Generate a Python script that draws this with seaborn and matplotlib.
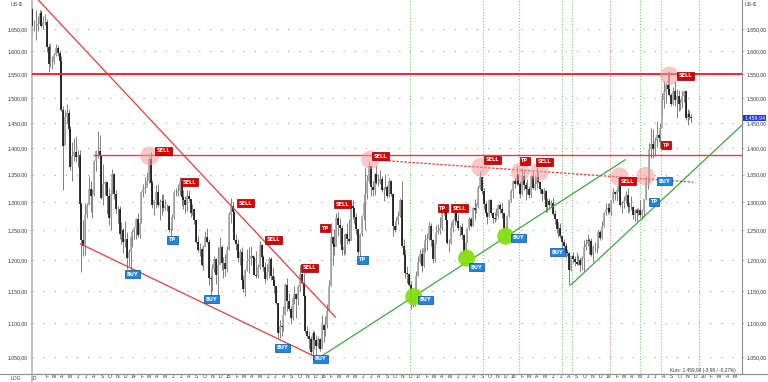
import numpy as np
import pandas as pd
import matplotlib
matplotlib.use("Agg")
import matplotlib.pyplot as plt
import matplotlib.dates as mdates
import matplotlib.transforms as mtrans
from matplotlib.ticker import FixedLocator, FuncFormatter, NullLocator, NullFormatter
from matplotlib.lines import Line2D
import seaborn as sns

# ---------------- data (weekly gold price, US-$) ----------------
first_week = "2012-12-21"
first_open = 1696

close_2012 = [1657, 1656]
high_2012 = [1700, 1670]
low_2012 = [1636, 1645]

close_2013 = [1656,1662,1687,1658,1667,1667,1609,1573,1576,1577,1592,1608,1596,1580,1476,1405,1462,1469,1437,1364,1386,1393,1383,1387,1296,1234,1223,1277,1295,1323,1310,1313,1376,1395,1395,1387,1308,1333,1337,1310,1272,1315,1352,1314,1287,1288,1244,1250,1230,1235,1203,1213]
high_2013 = [1693,1680,1694,1695,1680,1684,1674,1616,1619,1590,1597,1616,1614,1604,1590,1484,1476,1488,1477,1444,1413,1419,1424,1397,1397,1300,1268,1298,1298,1348,1338,1323,1378,1397,1434,1425,1387,1370,1339,1337,1325,1322,1361,1353,1322,1292,1292,1264,1255,1267,1247,1219]
low_2013 = [1626,1646,1660,1655,1651,1660,1598,1555,1565,1562,1572,1590,1591,1540,1474,1321,1408,1449,1430,1359,1338,1375,1373,1365,1269,1180,1206,1208,1271,1294,1282,1271,1310,1357,1382,1383,1306,1294,1313,1279,1260,1251,1314,1305,1281,1262,1236,1226,1211,1222,1186,1190]

close_2014 = [1238,1248,1254,1270,1242,1263,1318,1323,1326,1338,1379,1334,1294,1303,1318,1294,1300,1302,1290,1293,1292,1250,1252,1274,1316,1316,1320,1337,1309,1303,1294,1310,1305,1280,1287,1268,1231,1216,1218,1192,1222,1238,1231,1171,1169,1185,1201,1175,1191,1222,1195,1195]
high_2014 = [1240,1251,1256,1272,1280,1272,1320,1332,1345,1355,1384,1392,1340,1304,1331,1332,1305,1315,1315,1306,1297,1295,1257,1279,1322,1326,1332,1345,1338,1322,1311,1322,1321,1306,1296,1287,1270,1240,1229,1222,1225,1249,1255,1236,1175,1194,1207,1203,1221,1238,1225,1205]
low_2014 = [1182,1221,1235,1236,1238,1237,1263,1309,1316,1331,1335,1322,1290,1277,1290,1291,1268,1277,1284,1286,1284,1247,1240,1250,1270,1310,1310,1313,1292,1288,1281,1284,1301,1273,1276,1261,1229,1214,1207,1190,1183,1221,1228,1160,1131,1150,1181,1161,1142,1193,1183,1171]

close_2015 = [1186,1216,1277,1293,1283,1234,1227,1204,1213,1167,1153,1183,1199,1201,1207,1203,1175,1174,1189,1225,1205,1189,1169,1180,1201,1173,1168,1157,1131,1085,1095,1094,1113,1159,1134,1121,1108,1138,1145,1137,1156,1177,1163,1142,1088,1081,1076,1057,1085,1075,1066,1076]
high_2015 = [1210,1223,1282,1307,1300,1284,1244,1236,1219,1222,1176,1186,1219,1222,1224,1209,1206,1215,1194,1232,1227,1209,1196,1194,1205,1205,1188,1174,1158,1131,1105,1099,1126,1162,1170,1147,1126,1142,1157,1147,1160,1191,1178,1179,1143,1095,1088,1081,1089,1088,1082,1080]
low_2015 = [1173,1181,1216,1262,1252,1232,1216,1196,1191,1164,1148,1142,1182,1178,1192,1183,1175,1170,1170,1186,1200,1182,1162,1168,1170,1168,1160,1147,1130,1077,1077,1081,1088,1112,1118,1118,1098,1104,1129,1108,1128,1149,1161,1137,1085,1077,1062,1052,1046,1062,1046,1064]

close_2016 = [1061,1097,1089,1097,1118,1158,1239,1227,1222,1271,1259,1255,1217,1222,1243,1235,1232,1292,1289,1273,1252,1213,1243,1275,1298,1315,1339,1366,1327,1322,1351,1335,1335,1341,1321,1326,1328,1310,1339,1315,1257,1251,1266,1275,1304,1224,1208,1178,1177,1159,1134,1133,1151]
high_2016 = [1078,1112,1098,1111,1129,1167,1263,1240,1253,1280,1282,1272,1259,1244,1246,1262,1270,1297,1304,1290,1280,1253,1245,1277,1315,1362,1350,1375,1359,1338,1353,1368,1352,1359,1347,1328,1352,1330,1343,1340,1317,1266,1274,1284,1308,1338,1236,1217,1190,1178,1166,1140,1162]
low_2016 = [1058,1061,1071,1080,1093,1118,1157,1191,1209,1225,1240,1226,1209,1208,1210,1226,1228,1234,1269,1261,1244,1208,1200,1241,1268,1251,1306,1335,1310,1311,1313,1333,1329,1333,1318,1302,1323,1307,1309,1310,1241,1248,1250,1261,1274,1222,1205,1171,1162,1158,1122,1124,1126]

close_2017 = [1173,1196,1210,1190,1220,1234,1236,1257,1234,1202,1229,1248,1249,1254,1287,1284,1268,1228,1228,1254,1268,1280,1266,1254,1256,1242,1212,1228,1254,1269,1258,1290,1285,1292,1325,1346,1320,1297,1280,1274,1304,1280,1272,1269,1275,1294,1288,1280,1248,1256,1275,1303]
high_2017 = [1182,1207,1219,1220,1226,1244,1245,1264,1263,1235,1233,1260,1261,1273,1289,1296,1290,1265,1236,1264,1270,1283,1296,1278,1259,1262,1243,1233,1255,1274,1274,1291,1306,1298,1330,1357,1338,1326,1301,1282,1306,1306,1283,1283,1290,1297,1298,1300,1279,1262,1276,1305]
low_2017 = [1146,1174,1195,1180,1188,1213,1216,1233,1224,1195,1197,1229,1243,1243,1250,1276,1261,1227,1214,1226,1248,1259,1264,1250,1241,1236,1205,1206,1231,1250,1256,1257,1268,1281,1290,1323,1315,1288,1276,1261,1274,1276,1263,1264,1268,1272,1281,1271,1243,1236,1252,1274]

close_2018 = [1320,1338,1332,1349,1333,1315,1347,1330,1323,1324,1313,1347,1325,1332,1345,1336,1323,1314,1320,1291,1302,1294,1298,1278,1270,1252,1255,1241,1231,1223,1214,1212,1184,1206,1201,1196,1193,1200,1192,1203,1222,1227,1233,1232,1209,1222,1222,1222,1248,1237,1257,1281]
high_2018 = [1323,1340,1344,1366,1352,1339,1362,1356,1337,1341,1329,1350,1356,1347,1365,1354,1338,1323,1326,1322,1307,1307,1303,1309,1285,1270,1265,1262,1240,1236,1228,1219,1213,1207,1214,1207,1213,1209,1205,1207,1233,1236,1243,1237,1237,1225,1230,1229,1250,1251,1266,1283]
low_2018 = [1300,1307,1326,1330,1330,1307,1312,1322,1303,1315,1307,1309,1323,1321,1325,1334,1316,1302,1305,1282,1282,1288,1291,1276,1261,1246,1238,1237,1211,1222,1204,1206,1160,1182,1195,1190,1191,1191,1180,1183,1182,1217,1223,1210,1207,1196,1213,1211,1220,1234,1236,1256]

close_2019 = [1285,1289,1282,1303,1318,1314,1322,1329,1294,1299,1302,1313,1292,1291,1291,1276,1286,1280,1286,1277,1284,1305,1341,1341,1399,1409,1399,1415,1426,1419,1440,1497,1513,1527,1520,1507,1488,1516,1497,1505,1489,1490,1505,1514,1459,1468,1462,1460]
high_2019 = [1299,1298,1298,1304,1326,1319,1326,1346,1330,1301,1311,1320,1325,1300,1310,1292,1288,1289,1290,1303,1287,1306,1347,1358,1411,1439,1438,1421,1453,1433,1449,1510,1535,1531,1555,1557,1511,1523,1535,1519,1517,1498,1515,1517,1515,1478,1475,1468]
low_2019 = [1276,1279,1280,1276,1298,1303,1302,1320,1291,1281,1289,1298,1281,1283,1285,1270,1266,1267,1277,1273,1269,1274,1304,1323,1337,1382,1381,1386,1402,1412,1400,1464,1480,1491,1515,1504,1485,1487,1485,1459,1474,1476,1480,1492,1456,1446,1456,1450]

last_price = 1459.94
kurs_text = "Kurs: 1.459,94 (-3,98 / -0,27%)"

y_ticks = [1050, 1100, 1150, 1200, 1250, 1300, 1350, 1400, 1450, 1500, 1550, 1600, 1650]

# horizontal levels
level_full = 1550
level_part = 1387
level_part_start = "2013-08-13"

# trend lines: (start date, start price, end date, end price)
red_lines = [("2013-01-14", 1717, "2016-03-01", 1109),
             ("2013-06-24", 1227, "2015-12-26", 1048)]
green_lines = [("2015-12-26", 1048, "2019-03-20", 1378),
               ("2018-08-22", 1159, "2020-06-12", 1446)]
dashed_line = ("2016-07-21", 1378, "2019-12-07", 1336)

# event markers (vertical dotted lines)
vline_dates = ["2016-12-14", "2017-09-21", "2018-02-06", "2018-07-18", "2018-08-29",
               "2019-01-22", "2019-05-14", "2019-08-06", "2019-12-30"]
vline_kind = ["g", "r", "r", "g", "g", "r", "g", "r", "g"]

# highlighted points
pink_dates = ["2014-03-17", "2016-07-14", "2017-09-10", "2018-02-10", "2018-04-24",
              "2019-02-26", "2019-06-06", "2019-09-06"]
pink_prices = [1385, 1378, 1364, 1355, 1355, 1346, 1347, 1547]
green_dates = ["2016-12-27", "2017-07-18", "2017-12-15"]
green_prices = [1141, 1203, 1240]

# signals
sig_text = ["SELL", "SELL", "SELL", "SELL", "SELL", "SELL", "SELL", "SELL", "SELL", "SELL", "SELL", "SELL",
            "TP", "TP", "TP", "TP",
            "TP", "TP", "TP",
            "BUY", "BUY", "BUY", "BUY", "BUY", "BUY", "BUY", "BUY", "BUY"]
sig_side = ["s"] * 12 + ["s"] * 4 + ["b"] * 3 + ["b"] * 9
sig_date = ["2014-05-10", "2014-08-18", "2015-03-21", "2015-07-06", "2015-11-22", "2016-03-28",
            "2016-08-21", "2017-06-21", "2017-10-26", "2018-05-13", "2019-03-28", "2019-11-06",
            "2016-01-22", "2017-04-17", "2018-02-26", "2019-08-25",
            "2014-06-13", "2016-06-13", "2019-07-10",
            "2014-01-11", "2014-11-10", "2015-08-10", "2016-01-03", "2017-02-10", "2017-08-25",
            "2018-02-03", "2018-07-03", "2019-08-18"]
sig_price = [1395, 1336, 1298, 1234, 1187, 1296, 1385, 1289, 1378, 1374, 1338, 1547,
             1254, 1289, 1376, 1406,
             1234, 1200, 1300,
             1177, 1137, 1063, 1047, 1136, 1188, 1237, 1213, 1338]

# ---------------- build ----------------
sns.set_style("white")
plt.rcParams["font.family"] = ["Liberation Sans", "DejaVu Sans"]

close = np.array(close_2012 + close_2013 + close_2014 + close_2015 + close_2016 + close_2017 + close_2018 + close_2019, float)
high = np.array(high_2012 + high_2013 + high_2014 + high_2015 + high_2016 + high_2017 + high_2018 + high_2019, float)
low = np.array(low_2012 + low_2013 + low_2014 + low_2015 + low_2016 + low_2017 + low_2018 + low_2019, float)
opens = np.concatenate([[first_open], close[:-1]])
dates = pd.date_range(first_week, periods=len(close), freq="W-FRI")
xnum = mdates.date2num(dates)

W, H = 768, 382
fig = plt.figure(figsize=(W / 100, H / 100), dpi=100)
L, R, T, B = 32, 742, 0, 374
ax = fig.add_axes([L / W, (H - B) / H, (R - L) / W, (B - T) / H])
ax.set_facecolor("white")
ax.set_yscale("log")
ax.set_xlim(pd.Timestamp("2012-12-20"), pd.Timestamp("2020-06-11"))
ax.set_ylim(1025.4, 1717.6)

def de_fmt(v, pos=None):
    s = f"{v:,.2f}"
    return s.replace(",", "X").replace(".", ",").replace("X", ".")

# grid
for v in y_ticks:
    ax.axhline(v, color="#a8a8a8", lw=0.8, ls=(0, (1, 9)), zorder=0)

# candles
ax.vlines(xnum, low, high, color="#5e5e5e", lw=0.55, zorder=2)
up = close >= opens
ax.vlines(xnum[up], opens[up], close[up], color="#a4a4a4", lw=1.15, zorder=3)
ax.vlines(xnum[~up], close[~up], opens[~up], color="#111111", lw=1.2, zorder=3)

# vertical event lines
for d, k in zip(vline_dates, vline_kind):
    ax.axvline(pd.Timestamp(d), color="#f28a8a" if k == "r" else "#7dc47d",
               lw=0.8, ls=(0, (1, 1.6)), zorder=1)

# horizontal levels
ax.axhline(level_full, color="#f02828", lw=1.4, zorder=4)
ax.hlines(level_part, pd.Timestamp(level_part_start), pd.Timestamp("2020-06-11"),
          color="#f03a3a", lw=1.0, zorder=4)

# trend lines with seaborn
for d1, p1, d2, p2 in red_lines:
    sns.lineplot(x=[pd.Timestamp(d1), pd.Timestamp(d2)], y=[p1, p2], ax=ax,
                 color="#f03a3a", lw=0.9, estimator=None, sort=False, zorder=4)
for d1, p1, d2, p2 in green_lines:
    sns.lineplot(x=[pd.Timestamp(d1), pd.Timestamp(d2)], y=[p1, p2], ax=ax,
                 color="#3aaa3a", lw=0.9, estimator=None, sort=False, zorder=4)
d1, p1, d2, p2 = dashed_line
ax.plot([pd.Timestamp(d1), pd.Timestamp(d2)], [p1, p2], color="#f03a3a", lw=0.9,
        ls=(0, (2, 1.2)), zorder=4)

# circles
sns.scatterplot(x=pd.to_datetime(pink_dates), y=pink_prices, ax=ax, s=180,
                color="#f49a9a", alpha=0.55, edgecolor="none", legend=False, zorder=5)
sns.scatterplot(x=pd.to_datetime(green_dates), y=green_prices, ax=ax, s=150,
                color="#86e010", alpha=0.95, edgecolor="none", legend=False, zorder=5)

# signal labels
for t, side, d, p in zip(sig_text, sig_side, sig_date, sig_price):
    fc = "#e00000" if side == "s" else "#1e84e6"
    ec = "#900000" if side == "s" else "#0c4f99"
    ax.text(pd.Timestamp(d), p, t, ha="center", va="center", fontsize=3.6,
            fontweight="bold", color="white", zorder=7, family=["DejaVu Sans"],
            bbox=dict(boxstyle="square,pad=0.3", fc=fc, ec=ec, lw=0.5))

# axes styling
ax.set_xlabel("")
ax.set_ylabel("")
ax.xaxis.label.set_visible(False)
ax.yaxis.label.set_visible(False)
ax.yaxis.set_major_locator(FixedLocator(y_ticks))
ax.yaxis.set_minor_locator(NullLocator())
ax.yaxis.set_major_formatter(FuncFormatter(de_fmt))
ax.yaxis.set_minor_formatter(NullFormatter())
ax.tick_params(axis="y", which="major", left=True, right=True, labelleft=True,
               labelright=True, length=1.5, width=0.5, color="#999999",
               labelsize=3.7, labelcolor="#333333", pad=1.6)

month_letters = "JFMAMJJASOND"
def month_lbl(v, pos=None):
    d = mdates.num2date(v)
    if d.month == 1:
        return "" if d.year == 2013 else f"{d.year % 100:02d}"
    return month_letters[d.month - 1]

ax.xaxis.set_major_locator(mdates.MonthLocator())
ax.xaxis.set_major_formatter(NullFormatter())
ax.xaxis.set_minor_locator(mdates.MonthLocator(bymonthday=15))
ax.xaxis.set_minor_formatter(FuncFormatter(month_lbl))
ax.tick_params(axis="x", which="major", length=6, width=0.5, color="#bbbbbb", direction="out")
ax.tick_params(axis="x", which="minor", length=0, labelsize=3.6, pad=0.1, labelcolor="#333333")

ax.spines["top"].set_visible(False)
ax.spines["left"].set_color("#b4b4b4")
ax.spines["left"].set_linewidth(1.2)
ax.spines["right"].set_color("#8c8c8c")
ax.spines["right"].set_linewidth(0.8)
ax.spines["bottom"].set_color("#8c8c8c")
ax.spines["bottom"].set_linewidth(0.8)

fig.add_artist(Line2D([0, 1], [(H - B) / H] * 2, color="#8c8c8c", lw=0.8, transform=fig.transFigure))
fig.add_artist(Line2D([L / W] * 2, [0, (H - B) / H], color="#b4b4b4", lw=1.2, transform=fig.transFigure))

# texts
fig.text(34 / W, 1 - 378 / H, "D", fontsize=3.6, color="#333333", ha="center", va="center")
fig.text(16 / W, 1 - 378 / H, "LOG", fontsize=3.6, color="#444444", ha="center", va="center")
fig.text(17 / W, 1 - 4.5 / H, "US-$", fontsize=3.8, color="#444444", ha="center", va="center")
fig.text(751 / W, 1 - 4.5 / H, "US-$", fontsize=3.8, color="#444444", ha="center", va="center")
ax.text(0.9915, 0.004, kurs_text, transform=ax.transAxes, ha="right", va="bottom",
        fontsize=3.4, color="#333333", zorder=8)
blend = mtrans.blended_transform_factory(ax.transAxes, ax.transData)
ax.text(1.003, last_price, de_fmt(last_price), transform=blend, ha="left", va="center",
        fontsize=3.9, color="white", clip_on=False, zorder=10,
        bbox=dict(boxstyle="square,pad=0.15", fc="#1838f0", ec="none"))

fig.savefig("out.png", dpi=100)
